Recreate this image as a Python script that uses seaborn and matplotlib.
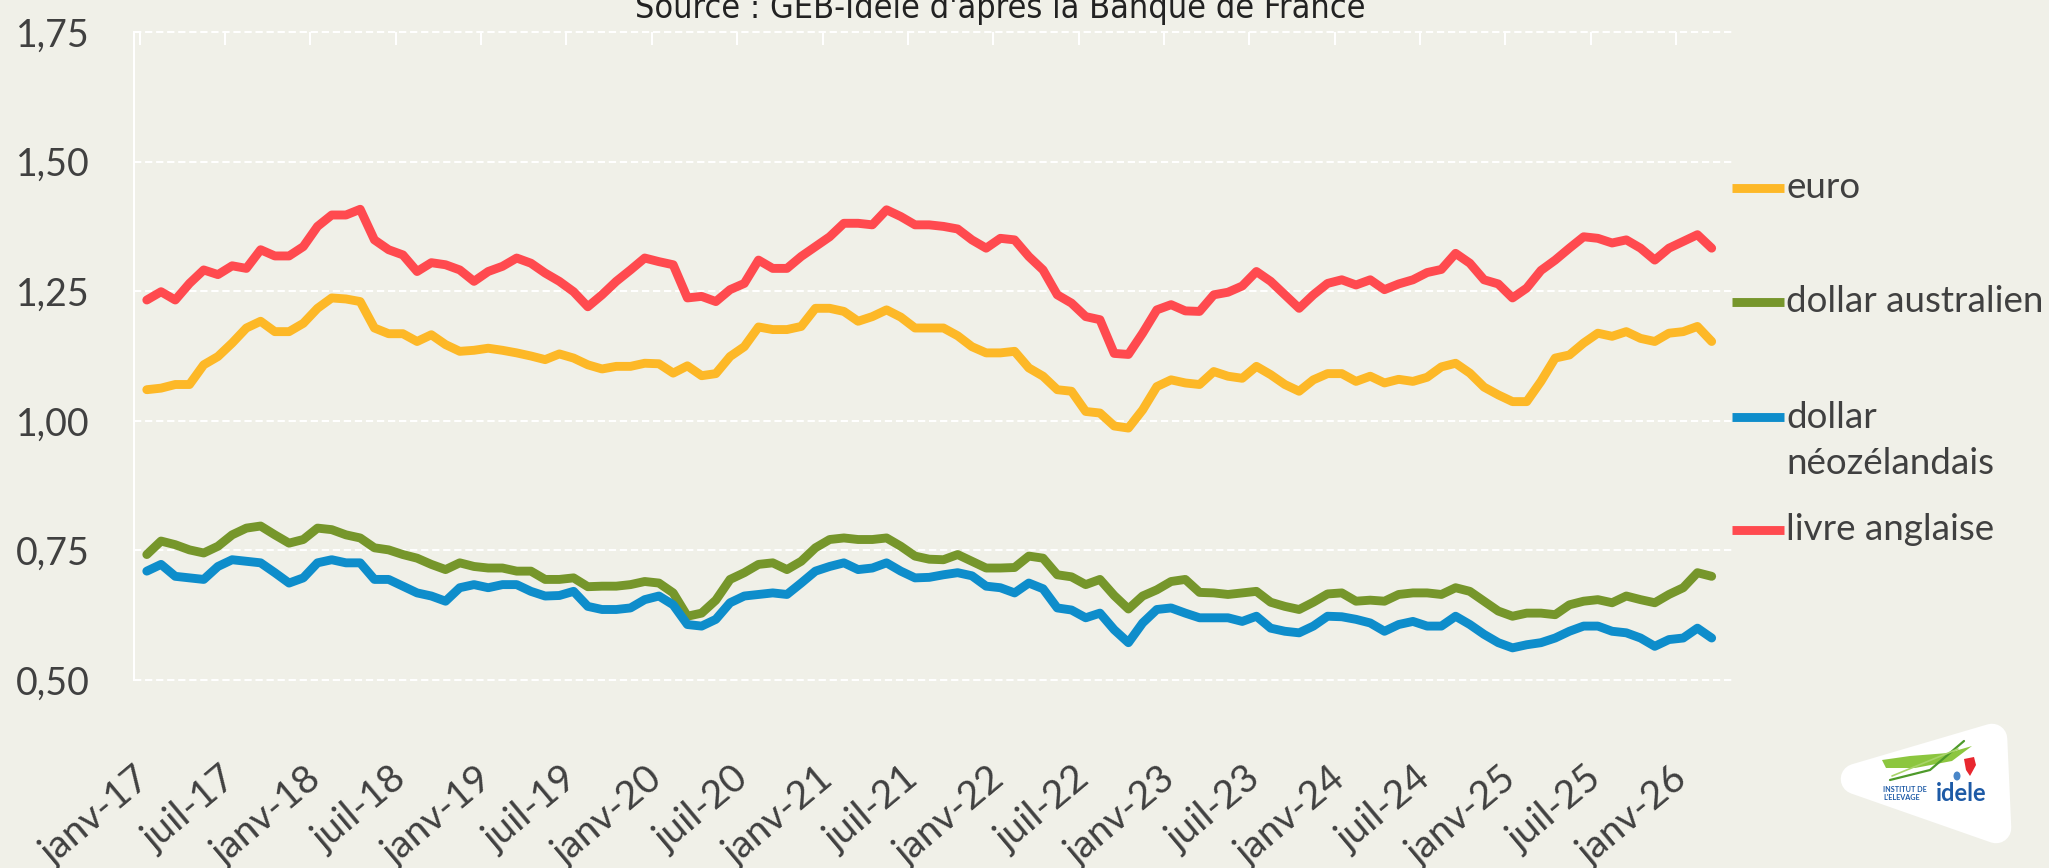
import numpy as np
import pandas as pd
import matplotlib
matplotlib.use("Agg")
import matplotlib.pyplot as plt
from matplotlib.lines import Line2D
from matplotlib.patches import Polygon, Ellipse
from matplotlib.ticker import FixedLocator
import seaborn as sns

# Monthly averages, USD per unit of currency (Jan 2017 - Mar 2026)
mois = pd.date_range("2017-01-01", "2026-03-01", freq="MS")
mois_fr = ["janv", "févr", "mars", "avr", "mai", "juin",
           "juil", "août", "sept", "oct", "nov", "déc"]

devises = ["euro", "dollar australien", "dollar néozélandais", "livre anglaise"]
libelles = ["euro", "dollar australien", "dollar\nnéozélandais", "livre anglaise"]
couleurs = ["#FDB827", "#76962B", "#0E8DCB", "#FF4A4F"]

euro = [
    1.060, 1.063, 1.070, 1.070, 1.108, 1.124, 1.150, 1.179, 1.192, 1.172,
    1.172, 1.188, 1.217, 1.237, 1.235, 1.230, 1.179, 1.168, 1.168, 1.153,
    1.166, 1.147, 1.134, 1.136, 1.140, 1.136, 1.131, 1.125, 1.118, 1.129,
    1.121, 1.108, 1.100, 1.105, 1.105, 1.111, 1.110, 1.092, 1.106, 1.087,
    1.091, 1.124, 1.143, 1.181, 1.176, 1.176, 1.182, 1.217, 1.217, 1.211,
    1.192, 1.201, 1.214, 1.200, 1.179, 1.179, 1.179, 1.164, 1.143, 1.131,
    1.131, 1.134, 1.102, 1.086, 1.060, 1.057, 1.018, 1.015, 0.990, 0.986,
    1.021, 1.066, 1.079, 1.073, 1.070, 1.095, 1.086, 1.082, 1.105, 1.089,
    1.070, 1.057, 1.079, 1.091, 1.091, 1.076, 1.086, 1.073, 1.080, 1.076,
    1.084, 1.104, 1.111, 1.092, 1.065, 1.050, 1.037, 1.037, 1.076, 1.121,
    1.127, 1.150, 1.169, 1.163, 1.172, 1.159, 1.153, 1.169, 1.172, 1.182,
    1.153,
]

dollar_australien = [
    0.742, 0.768, 0.761, 0.751, 0.745, 0.758, 0.780, 0.793, 0.797, 0.780,
    0.764, 0.771, 0.793, 0.790, 0.780, 0.774, 0.755, 0.751, 0.742, 0.735,
    0.723, 0.713, 0.726, 0.719, 0.716, 0.716, 0.710, 0.710, 0.694, 0.694,
    0.697, 0.680, 0.681, 0.681, 0.684, 0.690, 0.687, 0.668, 0.623, 0.629,
    0.654, 0.694, 0.707, 0.723, 0.726, 0.713, 0.729, 0.755, 0.771, 0.774,
    0.771, 0.771, 0.774, 0.758, 0.739, 0.733, 0.732, 0.742, 0.729, 0.716,
    0.716, 0.717, 0.739, 0.735, 0.703, 0.699, 0.684, 0.694, 0.663, 0.637,
    0.662, 0.674, 0.690, 0.694, 0.669, 0.668, 0.665, 0.668, 0.671, 0.650,
    0.642, 0.636, 0.650, 0.666, 0.668, 0.652, 0.654, 0.652, 0.665, 0.668,
    0.668, 0.665, 0.678, 0.671, 0.652, 0.633, 0.623, 0.629, 0.629, 0.626,
    0.645, 0.652, 0.655, 0.649, 0.662, 0.655, 0.649, 0.665, 0.678, 0.707,
    0.700,
]

dollar_neozelandais = [
    0.710, 0.723, 0.700, 0.697, 0.694, 0.719, 0.732, 0.729, 0.726, 0.707,
    0.687, 0.697, 0.726, 0.732, 0.726, 0.726, 0.694, 0.694, 0.681, 0.668,
    0.662, 0.652, 0.678, 0.684, 0.678, 0.684, 0.684, 0.671, 0.662, 0.663,
    0.671, 0.642, 0.636, 0.636, 0.639, 0.655, 0.662, 0.645, 0.607, 0.604,
    0.617, 0.649, 0.662, 0.665, 0.668, 0.665, 0.687, 0.710, 0.719, 0.726,
    0.713, 0.716, 0.726, 0.710, 0.697, 0.698, 0.703, 0.707, 0.701, 0.681,
    0.678, 0.668, 0.687, 0.676, 0.639, 0.635, 0.620, 0.629, 0.597, 0.572,
    0.610, 0.636, 0.639, 0.629, 0.620, 0.620, 0.620, 0.613, 0.623, 0.600,
    0.594, 0.591, 0.604, 0.623, 0.622, 0.617, 0.610, 0.594, 0.607, 0.613,
    0.604, 0.604, 0.623, 0.607, 0.588, 0.572, 0.562, 0.568, 0.572, 0.581,
    0.594, 0.604, 0.604, 0.594, 0.591, 0.581, 0.565, 0.578, 0.581, 0.600,
    0.581,
]

livre_anglaise = [
    1.233, 1.249, 1.233, 1.265, 1.291, 1.282, 1.299, 1.294, 1.330, 1.318,
    1.318, 1.336, 1.375, 1.397, 1.397, 1.408, 1.349, 1.330, 1.320, 1.288,
    1.305, 1.301, 1.291, 1.269, 1.288, 1.298, 1.314, 1.304, 1.285, 1.269,
    1.249, 1.220, 1.243, 1.269, 1.291, 1.314, 1.307, 1.301, 1.237, 1.240,
    1.230, 1.253, 1.265, 1.310, 1.294, 1.294, 1.317, 1.336, 1.355, 1.381,
    1.381, 1.378, 1.407, 1.394, 1.378, 1.378, 1.375, 1.370, 1.349, 1.333,
    1.352, 1.349, 1.317, 1.291, 1.243, 1.227, 1.201, 1.195, 1.130, 1.128,
    1.169, 1.214, 1.224, 1.212, 1.211, 1.243, 1.248, 1.260, 1.288, 1.269,
    1.243, 1.217, 1.243, 1.265, 1.272, 1.262, 1.272, 1.253, 1.264, 1.272,
    1.286, 1.292, 1.323, 1.304, 1.272, 1.264, 1.237, 1.256, 1.290, 1.310,
    1.333, 1.355, 1.352, 1.343, 1.349, 1.333, 1.310, 1.333, 1.346, 1.359,
    1.333,
]

y_ticks = [0.50, 0.75, 1.00, 1.25, 1.50, 1.75]

BG = "#F0F0E8"
TXT = "#404040"
W, H = 2049, 868

sns.set_theme(style="white")
plt.rcParams["font.family"] = ["Lato", "DejaVu Sans"]


def fx(px):
    return px / W


def fy(py):
    return 1 - py / H


df = pd.DataFrame({
    "idx": np.arange(len(mois)),
    "euro": euro,
    "dollar australien": dollar_australien,
    "dollar néozélandais": dollar_neozelandais,
    "livre anglaise": livre_anglaise,
})
long = df.melt(id_vars="idx", var_name="devise", value_name="taux")

fig = plt.figure(figsize=(W / 100, H / 100), dpi=100, facecolor=BG)
ax = fig.add_axes([fx(134), fy(680), fx(1733) - fx(134), fy(32) - fy(680)])
ax.set_facecolor(BG)

sns.lineplot(data=long, x="idx", y="taux", hue="devise", hue_order=devises,
             palette=couleurs, linewidth=6.4, legend=False, ax=ax,
             solid_capstyle="round", solid_joinstyle="round")

n_cat = len(mois) + 1
ax.set_xlim(-0.5, n_cat - 0.5)
ax.set_ylim(0.5, 1.75)

# y axis
ax.set_yticks(y_ticks)
ax.set_yticklabels([f"{v:.2f}".replace(".", ",") for v in y_ticks])
ax.yaxis.grid(True, color="white", linestyle=(0, (3.5, 1.8)), linewidth=1.5)
for gl in ax.yaxis.get_gridlines():
    gl.set_clip_on(False)
ax.tick_params(axis="y", length=0, pad=32, labelsize=27, labelcolor=TXT)

# x axis: labels every 6 months, slanted text ending just left of each
# category centre; short marks at the category boundaries along the top
lab_pos = list(range(0, len(mois), 6))
ax.set_xticks([p - 0.9 for p in lab_pos])
ax.set_xticklabels([f"{mois_fr[mois[i].month - 1]}-{mois[i].year % 100:02d}"
                    for i in lab_pos])
ax.xaxis.set_minor_locator(FixedLocator([p - 0.5 for p in lab_pos]))
ax.tick_params(axis="x", which="major", length=0, pad=58, labelsize=28,
               labelcolor=TXT, bottom=False)
ax.tick_params(axis="x", which="minor", top=True, bottom=False,
               direction="in", length=9.5, width=1.5, color="white")
for lab in ax.get_xticklabels():
    lab.set_rotation(40)
    lab.set_rotation_mode("anchor")
    lab.set_ha("right")
    lab.set_va("top")
ax.set_xlabel("")
ax.set_ylabel("")

for side in ["top", "right", "bottom"]:
    ax.spines[side].set_visible(False)
ax.spines["left"].set_color("white")
ax.spines["left"].set_linewidth(1.5)

# legend
leg_y = [188, 302, 417, 530]
for lab, col, yy in zip(libelles, couleurs, leg_y):
    fig.add_artist(Line2D([fx(1732), fx(1784)], [fy(yy), fy(yy)],
                          transform=fig.transFigure, color=col, linewidth=6.4,
                          solid_capstyle="butt"))
    for k, t in enumerate(lab.split("\n")):
        fig.text(fx(1786), fy(yy + 46 * k), t, ha="left", va="center",
                 fontsize=26.5, color=TXT)

# source line
fig.text(fx(1000), fy(18), "Source : GEB-Idele d'après la Banque de France",
         ha="center", va="baseline", fontsize=24.5, color="#222222",
         family=["DejaVu Sans"], fontstretch="condensed")

# logo
tf = fig.transFigure
tri = [(1856, 779), (1992, 739), (1996, 828)]
fig.add_artist(Polygon([(fx(a), fy(b)) for a, b in tri], closed=True,
                       transform=tf, facecolor="white", edgecolor="white",
                       linewidth=22, joinstyle="round"))
swoosh = [(1882, 760), (1910, 756), (1948, 753), (1972, 746),
          (1952, 761), (1915, 768), (1886, 768)]
fig.add_artist(Polygon([(fx(a), fy(b)) for a, b in swoosh], closed=True,
                       transform=tf, facecolor="#8CC63F", edgecolor="none"))
fig.add_artist(Line2D([fx(1890), fx(1930), fx(1964)],
                      [fy(780), fy(770), fy(741)], transform=tf,
                      color="#4E9A2A", linewidth=1.6))
fig.add_artist(Line2D([fx(1892), fx(1958)], [fy(776), fy(749)], transform=tf,
                      color="#A8D46A", linewidth=1.2))
red = [(1964, 759), (1974, 757), (1976, 765), (1970, 776), (1966, 770)]
fig.add_artist(Polygon([(fx(a), fy(b)) for a, b in red], closed=True,
                       transform=tf, facecolor="#E8272F", edgecolor="none"))
fig.add_artist(Ellipse((fx(1957), fy(776)), fx(7), 9 / H, transform=tf,
                       facecolor="#4A86C8", edgecolor="none"))
fig.text(fx(1883), fy(789), "INSTITUT DE", fontsize=5.2, fontweight="bold",
         color="#1D5AA6", ha="left", va="center")
fig.text(fx(1883), fy(798), "L'ELEVAGE", fontsize=5.2, fontweight="bold",
         color="#1D5AA6", ha="left", va="center")
fig.text(fx(1936), fy(801), "idele", fontsize=17, fontweight="bold",
         color="#1D5AA6", ha="left", va="baseline")

fig.savefig("out.png", dpi=100, facecolor=BG)
